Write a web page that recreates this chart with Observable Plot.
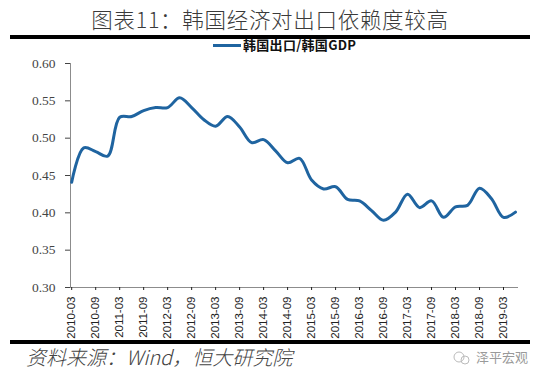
<!DOCTYPE html>
<html>
<head>
<meta charset="utf-8">
<script src="https://cdn.jsdelivr.net/npm/d3@7"></script>
<script src="https://cdn.jsdelivr.net/npm/@observablehq/plot@0.6"></script>
<style>
  html, body { margin: 0; padding: 0; background: #fff; }
  #wrap { position: relative; width: 550px; height: 392px; overflow: hidden; background: #fff; }
  .abs { position: absolute; white-space: nowrap; }
  #title { top: 6px; left: 0; width: 540px; text-align: center; font-family: "Noto Sans CJK SC", sans-serif; font-weight: 300; font-size: 21.5px; line-height: 26px; color: #3a3a3a; letter-spacing: 0.7px; }
  .bar { position: absolute; left: 10px; width: 520px; height: 4px; background: #000; }
  #legend { top: 39px; left: 213px; height: 12px; font-family: "Noto Sans CJK SC", sans-serif; font-weight: bold; font-size: 13px; line-height: 12px; color: #111; letter-spacing: 0.3px; }
  #legend .sw { display: inline-block; width: 28px; height: 3px; background: #1f64a0; vertical-align: middle; margin-right: 2px; position: relative; top: -1px; }
  #chart { position: absolute; left: 0; top: 50px; }
  #source { top: 344px; left: 26px; font-family: "Noto Sans CJK SC", sans-serif; font-weight: 300; font-style: italic; font-size: 20px; line-height: 26px; color: #444; }
  #mark { top: 348px; left: 452px; font-family: "Noto Sans CJK SC", sans-serif; font-size: 13px; line-height: 18px; color: #9a9a9a; }
</style>
</head>
<body>
<div id="wrap">
  <div id="title" class="abs">图表11：韩国经济对出口依赖度较高</div>
  <div class="bar" style="top:35px"></div>
  <div id="legend" class="abs"><span class="sw"></span>韩国出口/韩国GDP</div>
  <div id="chart"></div>
  <div class="bar" style="top:340px"></div>
  <div id="source" class="abs">资料来源：Wind，恒大研究院</div>
  <div id="mark" class="abs"><svg width="20" height="14" style="vertical-align:middle;margin-right:4px"><circle cx="7" cy="6" r="5" fill="none" stroke="#bbb" stroke-width="1"/><circle cx="13" cy="9" r="4" fill="none" stroke="#bbb" stroke-width="1"/></svg>泽平宏观</div>
</div>
<script>
const quarters = [
  "2010-03","2010-06","2010-09","2010-12",
  "2011-03","2011-06","2011-09","2011-12",
  "2012-03","2012-06","2012-09","2012-12",
  "2013-03","2013-06","2013-09","2013-12",
  "2014-03","2014-06","2014-09","2014-12",
  "2015-03","2015-06","2015-09","2015-12",
  "2016-03","2016-06","2016-09","2016-12",
  "2017-03","2017-06","2017-09","2017-12",
  "2018-03","2018-06","2018-09","2018-12",
  "2019-03","2019-06"
];
const exportToGdp = [
  0.441, 0.487, 0.482, 0.476,
  0.528, 0.529, 0.537, 0.541,
  0.541, 0.554, 0.541, 0.525,
  0.516, 0.529, 0.515, 0.494,
  0.498, 0.483, 0.467, 0.473,
  0.444, 0.432, 0.435, 0.418,
  0.416, 0.403, 0.390, 0.401,
  0.425, 0.407, 0.416, 0.394,
  0.408, 0.410, 0.433, 0.419,
  0.394, 0.401
];
const xTickLabels = [
  "2010-03","2010-09","2011-03","2011-09","2012-03","2012-09","2013-03","2013-09",
  "2014-03","2014-09","2015-03","2015-09","2016-03","2016-09","2017-03","2017-09",
  "2018-03","2018-09","2019-03"
];
const yTicks = [0.30, 0.35, 0.40, 0.45, 0.50, 0.55, 0.60];

const data = quarters.map((q, i) => ({idx: i, quarter: q, value: exportToGdp[i]}));
const tickIdx = xTickLabels.map(l => quarters.indexOf(l));
const xMin = -0.1, xMax = 37.25;
const yMin = 0.30, yMax = 0.60;

const chart = Plot.plot({
  width: 550,
  height: 290,
  marginTop: 13,
  marginBottom: 53,
  marginLeft: 70,
  marginRight: 32,
  x: {domain: [xMin, xMax]},
  y: {domain: [yMin, yMax]},
  marks: [
    Plot.ruleY([yMin], {stroke: "#8c8c8c", strokeWidth: 1}),
    Plot.ruleX([xMin], {stroke: "#8c8c8c", strokeWidth: 1}),
    Plot.axisY({
      ticks: yTicks, tickFormat: d => d.toFixed(2), tickSize: 5, tickPadding: 10,
      label: null, color: "#444"
    }),
    Plot.axisX({
      ticks: tickIdx, tickFormat: i => quarters[i], tickRotate: -90, tickSize: 3, tickPadding: 6,
      label: null, color: "#222"
    }),
    Plot.line(data, {
      x: "idx", y: "value", curve: "catmull-rom",
      stroke: "#1f64a0", strokeWidth: 3, strokeLinejoin: "round", strokeLinecap: "round"
    })
  ]
});
// typography of tick labels
d3.select(chart).selectAll('g[aria-label="y-axis tick label"], g[aria-label="y-axis tick label"] text')
  .style("font-family", '"Liberation Serif", "DejaVu Serif", serif').style("font-size", "13.5px");
d3.select(chart).selectAll('g[aria-label="x-axis tick label"], g[aria-label="x-axis tick label"] text')
  .style("font-family", '"Liberation Sans", Arial, sans-serif').style("font-size", "11.5px");
document.getElementById("chart").appendChild(chart);
</script>
</body>
</html>
